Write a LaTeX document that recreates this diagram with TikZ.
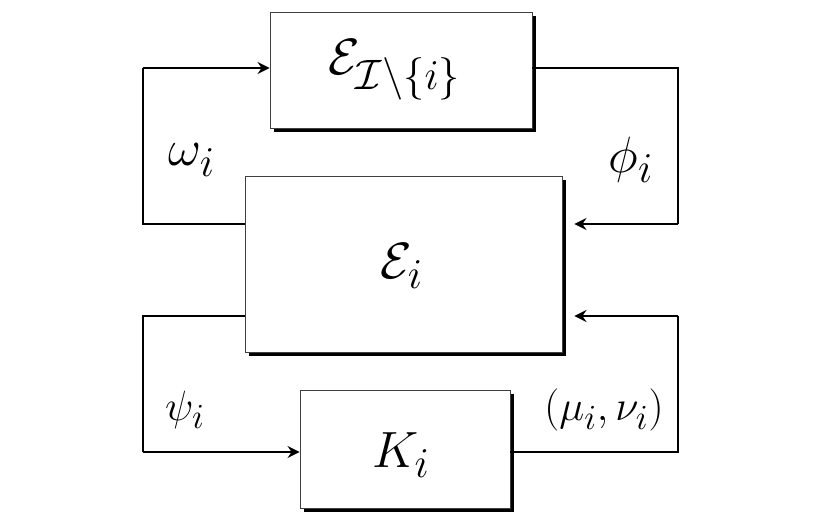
\documentclass[tikz,border=0pt]{standalone}
\usetikzlibrary{shadows,arrows.meta}
\tikzset{
  blk/.style={draw=black!75, line width=0.9pt, fill=white, inner sep=0pt,
    drop shadow={shadow xshift=4pt, shadow yshift=-4pt, fill=black, opacity=1}},
  conn/.style={line width=1.8pt, black},
  arr/.style={conn, -{Stealth[length=12pt,width=12pt,inset=4pt]}},
  biglbl/.style={font=\Huge, scale=2.05},
  midlbl/.style={font=\Huge, scale=2.05},
  smllbl/.style={font=\Huge, scale=1.7}
}
\begin{document}
\begin{tikzpicture}[x=1pt,y=-1pt]
\useasboundingbox (0,0) rectangle (814,525);
\node[blk, minimum width=262pt, minimum height=116pt] (top) at (401,70) {};
\node[blk, minimum width=317pt, minimum height=176pt] (mid) at (403.5,264) {};
\node[blk, minimum width=210pt, minimum height=118pt] (bot) at (405,449) {};
\node[biglbl] (ttop) at (395,70) {$\mathcal{E}_{\mathcal{I}\setminus\{i\}}$};
\node[biglbl] (tmid) at (402,266) {$\mathcal{E}_i$};
\node[biglbl] (tbot) at (401,455) {$K_i$};
\coordinate (l1) at (143,224);
\coordinate (l2) at (143,68);
\coordinate (r1) at (678,68);
\coordinate (r2) at (678,224);
\coordinate (l3) at (143,316);
\coordinate (l4) at (143,452);
\coordinate (r3) at (678,452);
\coordinate (r4) at (678,316);
\draw[conn] (mid.west |- l1) -- (l1) -- (l2);
\draw[arr] (l2) -- (top.west |- l2);
\draw[conn] (top.east |- r1) -- (r1) -- (r2);
\draw[arr, shorten >=12pt] (r2) -- (mid.east |- r2);
\draw[conn] (mid.west |- l3) -- (l3) -- (l4);
\draw[arr] (l4) -- (bot.west |- l4);
\draw[conn] (bot.east |- r3) -- (r3) -- (r4);
\draw[arr, shorten >=12pt] (r4) -- (mid.east |- r4);
\node[midlbl] (om) at (192,160) {$\omega_i$};
\node[midlbl] (ph) at (631,160) {$\phi_i$};
\node[smllbl] (ps) at (185,410) {$\psi_i$};
\node[smllbl] (mn) at (604,410) {$(\mu_i,\nu_i)$};
\end{tikzpicture}
\end{document}
